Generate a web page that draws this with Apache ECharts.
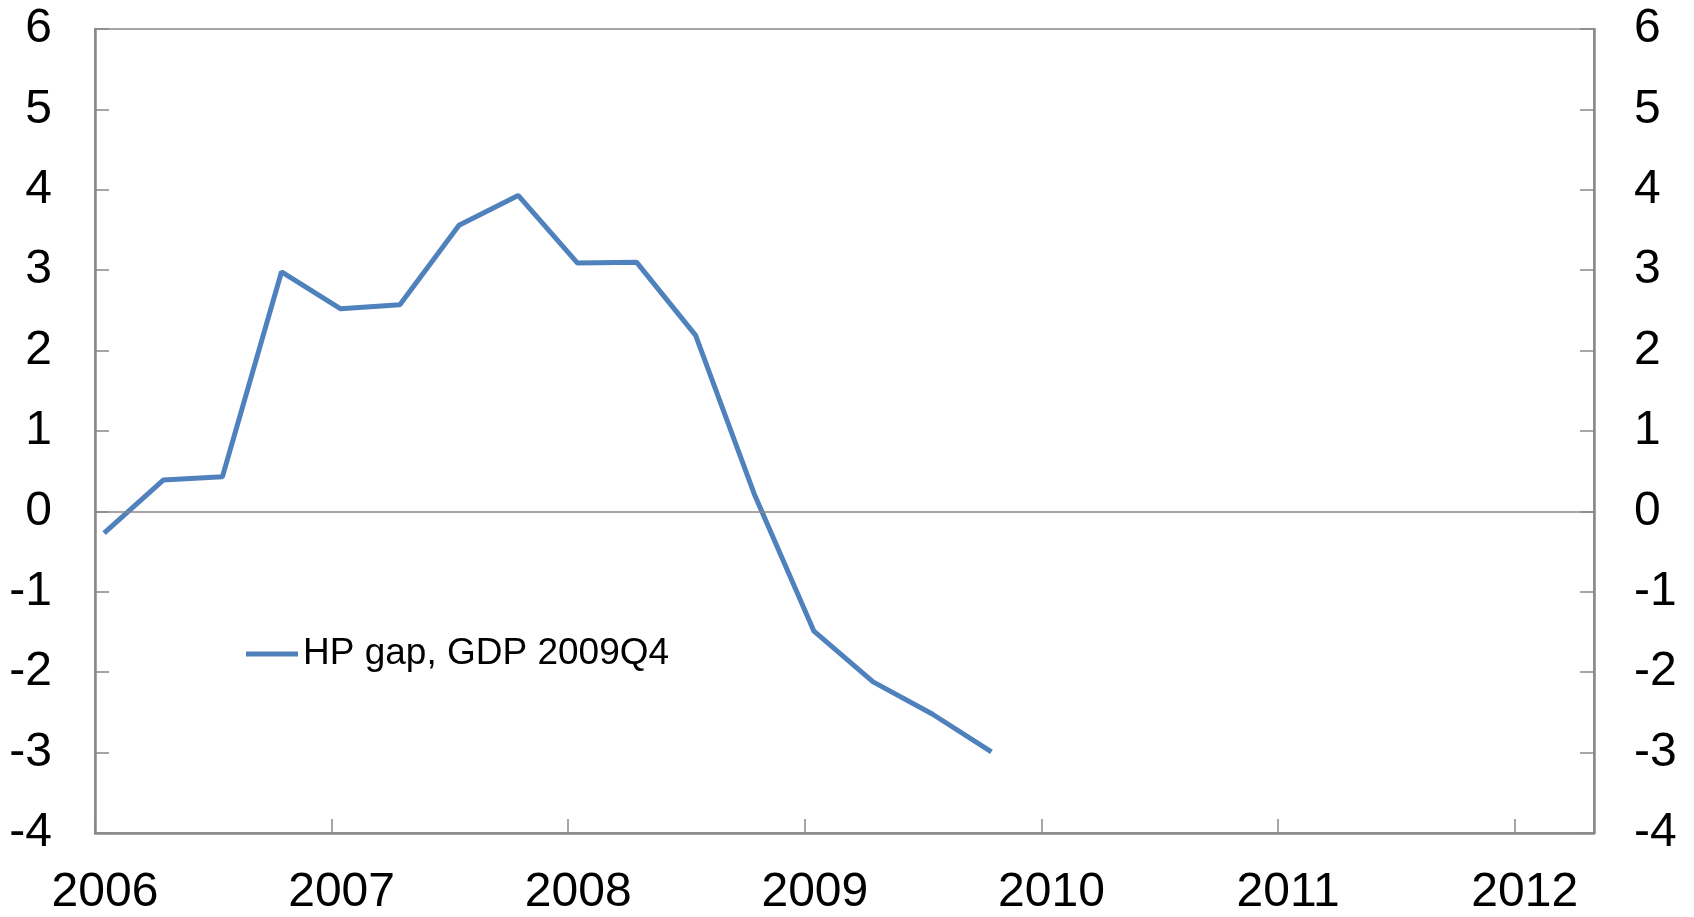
<!DOCTYPE html>
<html>
<head>
<meta charset="utf-8">
<script src="https://cdn.jsdelivr.net/npm/echarts@6/dist/echarts.min.js"></script>
<style>
html,body{margin:0;padding:0;background:#fff;}
#chart{width:1694px;height:917px;}
</style>
</head>
<body>
<div id="chart"></div>
<script>
// Observation dates (mid-month of quarter start) and HP gap values
const dates = ['2006-01-15','2006-04-15','2006-07-15','2006-10-15',
               '2007-01-15','2007-04-15','2007-07-15','2007-10-15',
               '2008-01-15','2008-04-15','2008-07-15','2008-10-15',
               '2009-01-15','2009-04-15','2009-07-15','2009-10-15'];
const hpGap = [-0.27, 0.39, 0.43, 2.98,
               2.52, 2.57, 3.56, 3.93,
               3.09, 3.10, 2.19, 0.20,
               -1.49, -2.12, -2.52, -2.99];
const yearLabels = [2006, 2007, 2008, 2009, 2010, 2011, 2012];
const yTicks = [-4, -3, -2, -1, 0, 1, 2, 3, 4, 5, 6];
const seriesName = 'HP gap, GDP 2009Q4';

function toYear(d) {
  const [y, m, day] = d.split('-').map(Number);
  return y + (m - 1) / 12 + (day - 1) / 365;
}
const points = dates.map((d, i) => [toYear(d), hpGap[i]]);

const axisGray = '#898989';
const font = 'Liberation Sans, Arial, sans-serif';

const chart = echarts.init(document.getElementById('chart'));
chart.setOption({
  animation: false,
  backgroundColor: '#fff',
  grid: {
    left: 95, right: 100, top: 29, bottom: 81,
    show: true, borderColor: axisGray, borderWidth: 1.5, backgroundColor: 'transparent'
  },
  legend: {
    data: [{name: seriesName, icon: 'rect'}],
    left: 241, top: 630,
    itemWidth: 52, itemHeight: 5, itemGap: 5,
    textStyle: {fontFamily: font, fontSize: 37, color: '#000', lineHeight: 38}
  },
  xAxis: {
    type: 'value',
    min: yearLabels[0], max: 2012.335, interval: 1,
    axisLine: {show: true, onZero: false, lineStyle: {color: axisGray, width: 2.5}},
    axisTick: {show: true, inside: true, length: 14, lineStyle: {color: axisGray, width: 1.5}},
    splitLine: {show: false},
    axisLabel: {
      fontFamily: font, fontSize: 48, color: '#000', margin: 36,
      showMaxLabel: false, padding: [0, 0, 0, 20],
      formatter: v => yearLabels.includes(Math.round(v)) && Math.abs(v - Math.round(v)) < 1e-6 ? String(Math.round(v)) : ''
    }
  },
  yAxis: [
    {
      type: 'value', position: 'left',
      min: yTicks[0], max: yTicks[yTicks.length - 1], interval: 1,
      axisLine: {show: true, onZero: false, lineStyle: {color: axisGray, width: 2.5}},
      axisTick: {show: true, inside: true, length: 14, lineStyle: {color: axisGray, width: 1.5}},
      splitLine: {show: false},
      axisLabel: {fontFamily: font, fontSize: 48, color: '#000', margin: 43}
    },
    {
      type: 'value', position: 'right',
      min: yTicks[0], max: yTicks[yTicks.length - 1], interval: 1,
      axisLine: {show: true, onZero: false, lineStyle: {color: axisGray, width: 2.5}},
      axisTick: {show: true, inside: true, length: 14, lineStyle: {color: axisGray, width: 1.5}},
      splitLine: {show: false},
      axisLabel: {fontFamily: font, fontSize: 48, color: '#000', margin: 40}
    }
  ],
  series: [{
    name: seriesName,
    type: 'line',
    data: points,
    symbol: 'none',
    lineStyle: {color: '#4F81BD', width: 5},
    itemStyle: {color: '#4F81BD'},
    markLine: {
      silent: true, symbol: 'none', label: {show: false},
      lineStyle: {color: axisGray, width: 1.5, type: 'solid'},
      data: [{yAxis: 0}]
    },
    z: 3
  }]
});
</script>
</body>
</html>
